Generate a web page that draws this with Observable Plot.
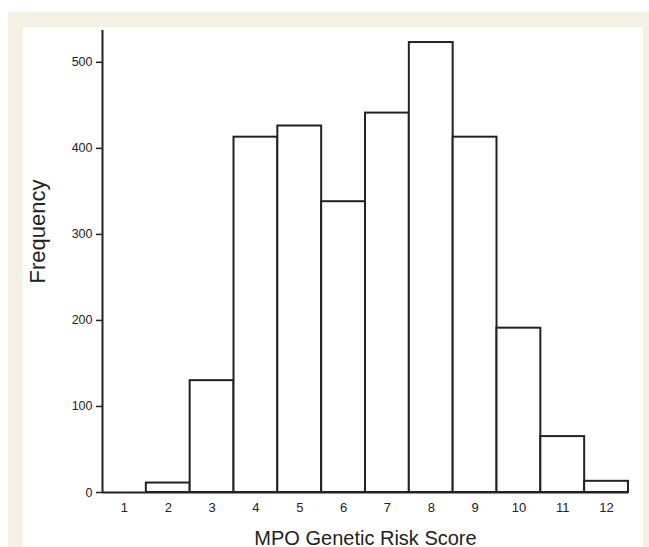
<!DOCTYPE html>
<html>
<head>
<meta charset="utf-8">
<script src="https://cdn.jsdelivr.net/npm/d3@7"></script>
<script src="https://cdn.jsdelivr.net/npm/@observablehq/plot@0.6"></script>
<style>
  html, body { margin: 0; padding: 0; background: #ffffff; }
  body { width: 649px; height: 547px; position: relative; overflow: hidden; font-family: "Liberation Sans", Arial, sans-serif; }
  #cream { position: absolute; left: 8px; top: 12px; right: 0; bottom: 0; background: #f5f1e4; }
  #panel { position: absolute; left: 23px; top: 27px; width: 620px; bottom: 0; background: #ffffff; }
  #chart { position: absolute; left: 0; top: 0; }
</style>
</head>
<body>
<div id="cream"></div>
<div id="panel"></div>
<div id="chart"></div>
<script>
// Data
const scores = [1, 2, 3, 4, 5, 6, 7, 8, 9, 10, 11, 12];
const counts = [0, 11, 130, 413, 426, 338, 441, 523, 413, 191, 65, 13];
const yTicks = [0, 100, 200, 300, 400, 500];
const xLabel = "MPO Genetic Risk Score";
const yLabel = "Frequency";

const data = scores.map((s, i) => ({score: s, count: counts[i]}));

const ink = "#222222";

const chart = Plot.plot({
  width: 649,
  height: 547,
  marginLeft: 102,
  marginRight: 21,
  marginTop: 30,
  marginBottom: 55,
  style: {background: "transparent", fontFamily: "'Liberation Sans', Arial, sans-serif", overflow: "visible"},
  x: {domain: [0.5, 12.5]},
  y: {domain: [0, 537]},
  marks: [
    Plot.rectY(data, {
      x1: d => d.score - 0.5,
      x2: d => d.score + 0.5,
      y: "count",
      fill: "white",
      stroke: ink,
      strokeWidth: 2
    }),
    Plot.ruleX([0.5], {stroke: ink, strokeWidth: 2}),
    Plot.ruleY([0], {stroke: ink, strokeWidth: 2.2}),
    Plot.axisY({ticks: yTicks, tickSize: 6, tickPadding: 4, fontSize: 12.5, label: null, stroke: ink, strokeWidth: 1.5, fill: "#222"}),
    Plot.axisX({ticks: scores, tickSize: 0, tickPadding: 10, fontSize: 13, label: null, fill: "#222", tickFormat: d => String(d)}),
    Plot.text([xLabel], {frameAnchor: "bottom", lineAnchor: "bottom", dy: 52, fontSize: 20, fill: ink}),
    Plot.text([yLabel], {frameAnchor: "left", textAnchor: "middle", rotate: -90, dx: -58, dy: -30, lineAnchor: "bottom", fontSize: 22, fill: ink})
  ]
});

document.getElementById("chart").appendChild(chart);
</script>
</body>
</html>
